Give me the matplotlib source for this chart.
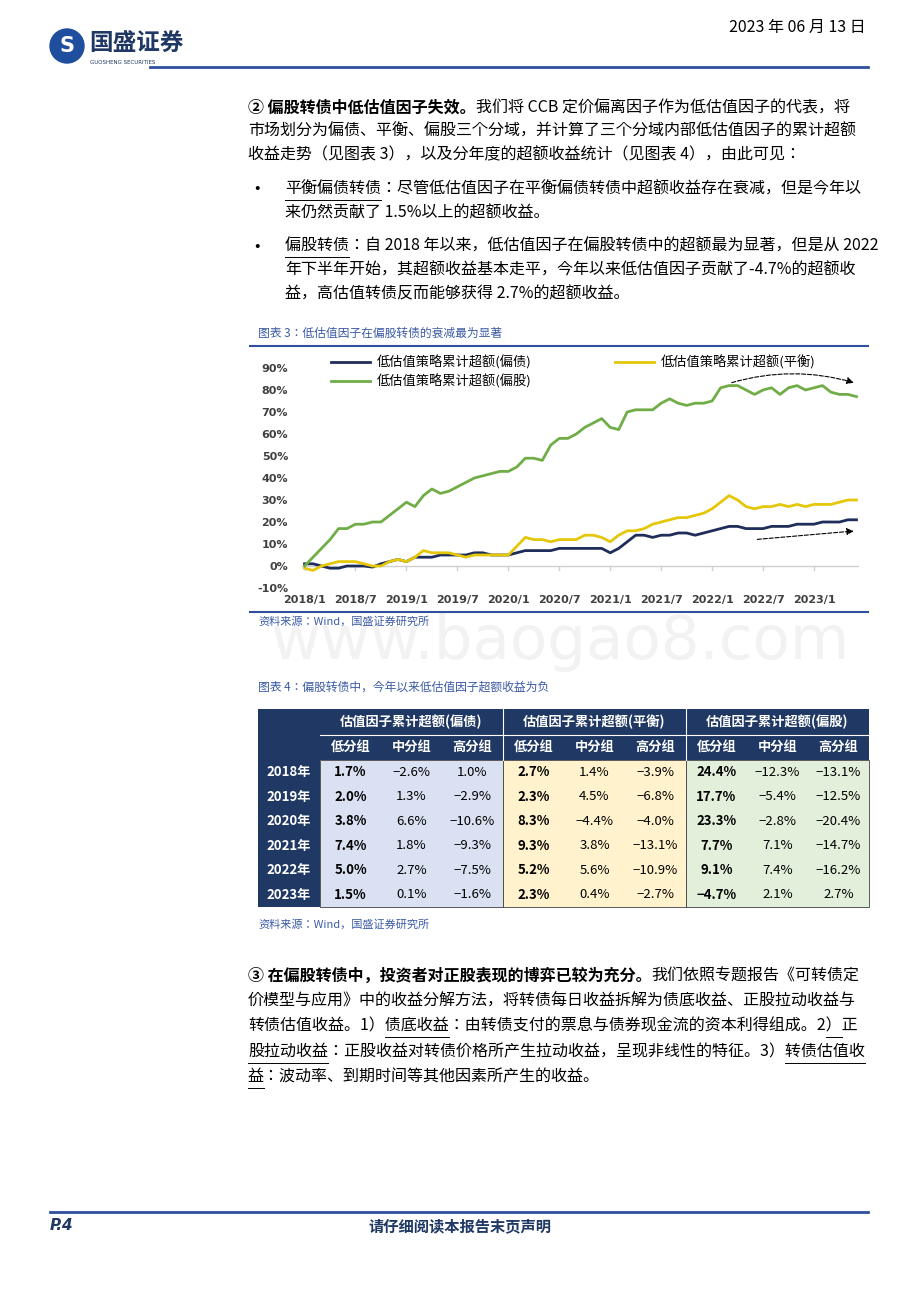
import matplotlib.pyplot as plt
import matplotlib.patches as patches
import numpy as np

plt.rcParams['font.family'] = ['Noto Sans CJK JP', 'DejaVu Sans']

W, H = 920, 1302

# monthly values 2018/1 .. 2023/6 (%)
months = [f"{y}/{m}" for y in range(2018, 2024) for m in range(1, 13)][:66]
bond = [1, 1, 0, -1, -1, 0, 0, 0, -0.5, 1, 2, 3,
        2, 4, 4, 4, 5, 5, 5, 5, 6, 6, 5, 5,
        5, 6, 7, 7, 7, 7, 8, 8, 8, 8, 8, 8,
        6, 8, 11, 14, 14, 13, 14, 14, 15, 15, 14, 15,
        16, 17, 18, 18, 17, 17, 17, 18, 18, 18, 19, 19,
        19, 20, 20, 20, 21, 21]
balance = [-1, -2, 0, 1, 2, 2, 2, 1, 0, 0, 2, 3,
           2, 4, 7, 6, 6, 6, 5, 4, 5, 5, 5, 5,
           5, 9, 13, 12, 12, 11, 12, 12, 12, 14, 14, 13,
           11, 14, 16, 16, 17, 19, 20, 21, 22, 22, 23, 24,
           26, 29, 32, 30, 27, 26, 27, 27, 28, 27, 28, 27,
           28, 28, 28, 29, 30, 30]
equity = [0, 4, 8, 12, 17, 17, 19, 19, 20, 20, 23, 26,
          29, 27, 32, 35, 33, 34, 36, 38, 40, 41, 42, 43,
          43, 45, 49, 49, 48, 55, 58, 58, 60, 63, 65, 67,
          63, 62, 70, 71, 71, 71, 74, 76, 74, 73, 74, 74,
          75, 81, 82, 82, 80, 78, 80, 81, 78, 81, 82, 80,
          81, 82, 79, 78, 78, 77]
series_names = ['低估值策略累计超额(偏债)', '低估值策略累计超额(平衡)', '低估值策略累计超额(偏股)']
tick_labels = ['2018/1', '2018/7', '2019/1', '2019/7', '2020/1', '2020/7',
               '2021/1', '2021/7', '2022/1', '2022/7', '2023/1']

years = ['2018年', '2019年', '2020年', '2021年', '2022年', '2023年']
groups = ['估值因子累计超额(偏债)', '估值因子累计超额(平衡)', '估值因子累计超额(偏股)']
subcols = ['低分组', '中分组', '高分组']
table_vals = [
    ['1.7%', '-2.6%', '1.0%', '2.7%', '1.4%', '-3.9%', '24.4%', '-12.3%', '-13.1%'],
    ['2.0%', '1.3%', '-2.9%', '2.3%', '4.5%', '-6.8%', '17.7%', '-5.4%', '-12.5%'],
    ['3.8%', '6.6%', '-10.6%', '8.3%', '-4.4%', '-4.0%', '23.3%', '-2.8%', '-20.4%'],
    ['7.4%', '1.8%', '-9.3%', '9.3%', '3.8%', '-13.1%', '7.7%', '7.1%', '-14.7%'],
    ['5.0%', '2.7%', '-7.5%', '5.2%', '5.6%', '-10.9%', '9.1%', '7.4%', '-16.2%'],
    ['1.5%', '0.1%', '-1.6%', '2.3%', '0.4%', '-2.7%', '-4.7%', '2.1%', '2.7%'],
]

NAVY = '#1F3864'
BLUE_LINE = '#2F4F9F'
BODY = 11.5

fig = plt.figure(figsize=(W / 100, H / 100), dpi=100)
renderer = fig.canvas.get_renderer()


def fx(x):
    return x / W


def fy(y):
    return 1 - y / H


def text(x, y, s, size=BODY, **kw):
    return fig.text(fx(x), fy(y), s, fontsize=size, va='center', **kw)


def width(s, size=BODY, **kw):
    if not s:
        return 0
    t = fig.text(0, 0, s, fontsize=size, **kw)
    w = t.get_window_extent(renderer).width
    t.remove()
    return w


def text_pair(x, y, bold, rest, size=BODY):
    text(x, y, bold, size, weight='bold')
    text(x + width(bold, size, weight='bold'), y, rest, size)


def hline(x0, x1, y, color=BLUE_LINE, lw=1.5):
    fig.add_artist(plt.Line2D([fx(x0), fx(x1)], [fy(y), fy(y)], color=color, lw=lw))


def underline(x, y, line, start, stop):
    x0 = x + width(line[:start])
    x1 = x + width(line[:stop])
    hline(x0, x1, y + 11, color='black', lw=0.7)


# header
logo = patches.Ellipse((fx(67), fy(46)), 34 / W, 34 / H, transform=fig.transFigure,
                       color='#1F4E9F')
fig.add_artist(logo)
text(67, 46, 'S', 15, color='white', weight='bold', ha='center', family='DejaVu Sans')
text(89, 43, '国盛证券', 17, weight='bold', color='#1F3864')
text(90, 62, 'GUOSHENG SECURITIES', 4, color='#1F3864', family='DejaVu Sans')
text(866, 27, '2023 年 06 月 13 日', 11.5, ha='right')
hline(150, 868, 67, lw=2)

# paragraph 1 and bullets
text_pair(248, 108, '② 偏股转债中低估值因子失效。', '我们将 CCB 定价偏离因子作为低估值因子的代表，将')
body = [
    (248, 131, '市场划分为偏债、平衡、偏股三个分域，并计算了三个分域内部低估值因子的累计超额'),
    (248, 155, '收益走势（见图表 3），以及分年度的超额收益统计（见图表 4），由此可见：'),
    (285, 189, '平衡偏债转债：尽管低估值因子在平衡偏债转债中超额收益存在衰减，但是今年以'),
    (285, 213, '来仍然贡献了 1.5%以上的超额收益。'),
    (285, 246, '偏股转债：自 2018 年以来，低估值因子在偏股转债中的超额最为显著，但是从 2022'),
    (285, 270, '年下半年开始，其超额收益基本走平，今年以来低估值因子贡献了-4.7%的超额收'),
    (285, 294, '益，高估值转债反而能够获得 2.7%的超额收益。'),
]
for x, y, s in body:
    text(x, y, s)
text(254, 189, '•', BODY)
text(254, 246, '•', BODY)
underline(285, 189, body[2][2], 0, 6)
underline(285, 246, body[4][2], 0, 4)

# chart 3
text(258, 333, '图表 3：低估值因子在偏股转债的衰减最为显著', 8.5, color='#3B5BA5', style='italic')
hline(250, 868, 346, lw=1.5)
hline(250, 868, 612, lw=1.5)

ax = fig.add_axes([fx(302), fy(588), fx(859) - fx(302), fy(368) - fy(588)])
x = np.arange(len(months))
l1, = ax.plot(x, bond, color='#1F2D5A', lw=2)
l2, = ax.plot(x, balance, color='#E5C70A', lw=2)
l3, = ax.plot(x, equity, color='#70AD47', lw=2)
ax.set_ylim(-10, 90)
ax.set_xlim(-0.3, 65.3)
ax.set_yticks(range(-10, 91, 10))
ax.set_yticklabels([f'{v}%' for v in range(-10, 91, 10)], fontsize=8, weight='bold',
                   color='#404040', family='DejaVu Sans')
ax.set_xticks(range(0, 61, 6))
ax.set_xticklabels(tick_labels, fontsize=8, weight='bold', color='#404040', family='DejaVu Sans')
ax.tick_params(axis='y', length=0, pad=10)
ax.tick_params(axis='x', length=0, pad=5)
for s in ['top', 'right', 'left', 'bottom']:
    ax.spines[s].set_visible(False)
ax.axhline(0, color='#d0d0d0', lw=1, zorder=0)
for t in range(0, 61, 6):
    ax.plot([t, t], [-2, 0], color='#d0d0d0', lw=1, zorder=0)
ax.annotate('', xy=(65, 83), xytext=(50, 83),
            arrowprops=dict(arrowstyle='-|>', ls='--', color='black', lw=0.8,
                            connectionstyle='arc3,rad=-0.15'))
ax.annotate('', xy=(65, 16), xytext=(53, 12),
            arrowprops=dict(arrowstyle='-|>', ls='--', color='black', lw=0.8))
leg1 = ax.legend([l1, l3], [series_names[0], series_names[2]], loc='upper left',
                 bbox_to_anchor=(0.03, 1.11), frameon=False, fontsize=9.5,
                 handlelength=3, labelspacing=0.3, handletextpad=0.5)
ax.add_artist(leg1)
ax.legend([l2], [series_names[1]], loc='upper left', bbox_to_anchor=(0.54, 1.11),
          frameon=False, fontsize=9.5, handlelength=3, handletextpad=0.5)
text(258, 621, '资料来源：Wind，国盛证券研究所', 8, color='#3B5BA5', style='italic')

# watermark
text(560, 642, 'www.baogao8.com', 44, color='#000000', alpha=0.05, ha='center',
     family='DejaVu Sans')

# table 4
text(258, 687, '图表 4：偏股转债中，今年以来低估值因子超额收益为负', 8.5, color='#3B5BA5', style='italic')
tx0, tx1 = 258, 869
ty0 = 709
c0 = 320
cw = (tx1 - c0) / 9
rh_head = 25.5
rh = 24.5
fills = ['#DAE1F2', '#FFF2CC', '#E2EFDA']


def rect(x0, y0, w, h, fc, ec='none', lw=0):
    fig.add_artist(patches.Rectangle((fx(x0), fy(y0 + h)), w / W, h / H,
                                     transform=fig.transFigure, fc=fc, ec=ec, lw=lw))


rect(tx0, ty0, tx1 - tx0, 2 * rh_head, NAVY)
rect(tx0, ty0, c0 - tx0, 2 * rh_head + 6 * rh, NAVY)
for g in range(3):
    gx = c0 + g * 3 * cw
    rect(gx, ty0 + 2 * rh_head, 3 * cw, 6 * rh, fills[g], ec='#404040', lw=0.6)
    text(gx + 1.5 * cw, ty0 + rh_head / 2, groups[g], 9.5, color='white', ha='center', weight='bold')
    for k in range(3):
        text(gx + (k + 0.5) * cw, ty0 + 1.5 * rh_head, subcols[k], 9.5, color='white',
             ha='center', weight='bold')
    if g > 0:
        fig.add_artist(plt.Line2D([fx(gx), fx(gx)], [fy(ty0), fy(ty0 + 2 * rh_head)],
                                  color='white', lw=0.8))
hline(c0, tx1, ty0 + rh_head, color='white', lw=0.8)
for i, yr in enumerate(years):
    yc = ty0 + 2 * rh_head + (i + 0.5) * rh
    text((tx0 + c0) / 2, yc, yr, 9.5, color='white', ha='center', weight='bold')
    for j, v in enumerate(table_vals[i]):
        cx = c0 + (j + 0.5) * cw
        v = v.replace('-', '−')
        if j % 3 == 0:
            text(cx, yc, v, 9.5, ha='center', weight='bold', style='italic')
        else:
            text(cx, yc, v, 9.5, ha='center')
text(258, 924, '资料来源：Wind，国盛证券研究所', 8, color='#3B5BA5', style='italic')

# paragraph 3
text_pair(248, 976, '③ 在偏股转债中，投资者对正股表现的博弈已较为充分。', '我们依照专题报告《可转债定')
p3 = [
    (1001, '价模型与应用》中的收益分解方法，将转债每日收益拆解为债底收益、正股拉动收益与'),
    (1026, '转债估值收益。1）债底收益：由转债支付的票息与债券现金流的资本利得组成。2）正'),
    (1052, '股拉动收益：正股收益对转债价格所产生拉动收益，呈现非线性的特征。3）转债估值收'),
    (1077, '益：波动率、到期时间等其他因素所产生的收益。'),
]
for y, s in p3:
    text(248, y, s)
underline(248, 1026, p3[1][1], 9, 13)
underline(248, 1026, p3[1][1], 37, 38)
underline(248, 1052, p3[2][1], 0, 5)
underline(248, 1052, p3[2][1], 34, 39)
underline(248, 1077, p3[3][1], 0, 1)

# footer
hline(50, 868, 1212, lw=2)
text(50, 1226, 'P.4', 11, weight='bold', style='italic', color='#1F3864', family='DejaVu Sans')
text(460, 1226, '请仔细阅读本报告末页声明', 11, weight='bold', style='italic', color='#1F3864', ha='center')

fig.savefig('out.png', dpi=100)
